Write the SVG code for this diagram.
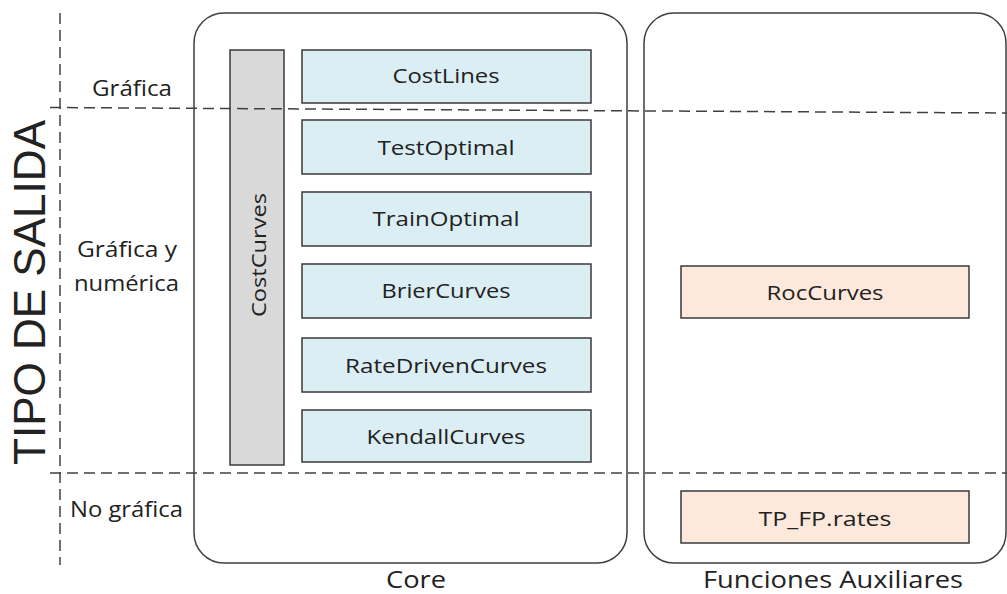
<svg xmlns="http://www.w3.org/2000/svg" width="1007" height="594" viewBox="0 0 1007 594">
  <style>
    .panel { fill: #ffffff; stroke: #3f3f3f; stroke-width: 1.5; }
    .fn { fill: #dbeef4; stroke: #3a3a3a; stroke-width: 1.5; }
    .aux { fill: #fde9db; stroke: #3a3a3a; stroke-width: 1.5; }
    .group { fill: #d9d9d9; stroke: #3a3a3a; stroke-width: 1.5; }
    .guide { fill: none; stroke: #404040; stroke-width: 1.5; stroke-dasharray: 11 6; }
    text { font-family: "Open Sans", "Noto Sans", sans-serif; fill: #222222; }
    .lbl { font-size: 20px; text-anchor: middle; }
    .side { font-size: 22px; text-anchor: middle; }
    .cap { font-size: 23px; text-anchor: middle; }
    .axis { font-family: "Liberation Sans", Arial, sans-serif; font-size: 44px; }
  </style>

  <!-- panels -->
  <g id="core">
    <rect class="panel" x="194" y="13" width="433" height="550" rx="30" ry="30"/>
    <text class="cap" x="416" y="588" textLength="60" lengthAdjust="spacingAndGlyphs">Core</text>
  </g>
  <g id="auxiliares">
    <rect class="panel" x="644" y="13" width="362" height="550" rx="30" ry="30"/>
    <text class="cap" x="833" y="588" textLength="260" lengthAdjust="spacingAndGlyphs">Funciones Auxiliares</text>
  </g>

  <g id="axis-label">
    <text class="axis" transform="translate(45,465) rotate(-90)" textLength="345" lengthAdjust="spacingAndGlyphs">TIPO DE SALIDA</text>
  </g>

  <g id="row-labels">
    <text class="side" x="132" y="96" textLength="80" lengthAdjust="spacingAndGlyphs">Gráfica</text>
    <text class="side" x="127" y="257" textLength="100" lengthAdjust="spacingAndGlyphs">Gráfica y</text>
    <text class="side" x="126.5" y="291" textLength="105" lengthAdjust="spacingAndGlyphs">numérica</text>
    <text class="side" x="126.5" y="517" textLength="113" lengthAdjust="spacingAndGlyphs">No gráfica</text>
  </g>

  <!-- core functions -->
  <g id="costcurves">
    <rect class="group" x="230" y="50" width="54" height="415"/>
    <text class="lbl" transform="translate(266,255) rotate(-90)" textLength="124" lengthAdjust="spacingAndGlyphs">CostCurves</text>
  </g>
  <g id="costlines">
    <rect class="fn" x="302" y="50" width="289" height="53"/>
    <text class="lbl" x="446" y="83" textLength="107" lengthAdjust="spacingAndGlyphs">CostLines</text>
  </g>
  <g id="testoptimal">
    <rect class="fn" x="302" y="120" width="289" height="54"/>
    <text class="lbl" x="446" y="155" textLength="137" lengthAdjust="spacingAndGlyphs">TestOptimal</text>
  </g>
  <g id="trainoptimal">
    <rect class="fn" x="302" y="192" width="289" height="54"/>
    <text class="lbl" x="446" y="226" textLength="147" lengthAdjust="spacingAndGlyphs">TrainOptimal</text>
  </g>
  <g id="briercurves">
    <rect class="fn" x="302" y="264" width="289" height="54"/>
    <text class="lbl" x="446" y="298" textLength="129" lengthAdjust="spacingAndGlyphs">BrierCurves</text>
  </g>
  <g id="ratedrivencurves">
    <rect class="fn" x="302" y="338" width="289" height="54"/>
    <text class="lbl" x="446" y="373" textLength="202" lengthAdjust="spacingAndGlyphs">RateDrivenCurves</text>
  </g>
  <g id="kendallcurves">
    <rect class="fn" x="302" y="410" width="289" height="52"/>
    <text class="lbl" x="446" y="444" textLength="159" lengthAdjust="spacingAndGlyphs">KendallCurves</text>
  </g>

  <!-- auxiliary functions -->
  <g id="roccurves">
    <rect class="aux" x="681" y="266" width="288" height="52"/>
    <text class="lbl" x="825" y="300" textLength="117" lengthAdjust="spacingAndGlyphs">RocCurves</text>
  </g>
  <g id="tp_fp_rates">
    <rect class="aux" x="681" y="491" width="288" height="52"/>
    <text class="lbl" x="825" y="526" textLength="133" lengthAdjust="spacingAndGlyphs">TP_FP.rates</text>
  </g>

  <!-- output-type guides, drawn on top so they cross the CostCurves bar -->
  <g id="guides">
    <line class="guide" x1="60" y1="13" x2="60" y2="565"/>
    <line class="guide" x1="50" y1="107.5" x2="1007" y2="113"/>
    <line class="guide" x1="50" y1="473" x2="1007" y2="473"/>
  </g>
</svg>
